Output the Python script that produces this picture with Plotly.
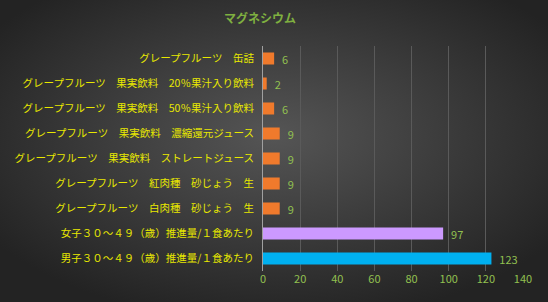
import base64
import plotly.graph_objects as go

categories = [
    "グレープフルーツ　缶詰",
    "グレープフルーツ　果実飲料　20％果汁入り飲料",
    "グレープフルーツ　果実飲料　50％果汁入り飲料",
    "グレープフルーツ　果実飲料　濃縮還元ジュース",
    "グレープフルーツ　果実飲料　ストレートジュース",
    "グレープフルーツ　紅肉種　砂じょう　生",
    "グレープフルーツ　白肉種　砂じょう　生",
    "女子３０～４９（歳）推進量/１食あたり",
    "男子３０～４９（歳）推進量/１食あたり",
]
values = [6, 2, 6, 9, 9, 9, 9, 97, 123]
bar_colors = ["#F07A2C"] * 7 + ["#CC99FF", "#00B0F0"]
x_ticks = [0, 20, 40, 60, 80, 100, 120, 140]

W, H = 548, 302
L, R, T, B = 263, 25, 46, 31
pw, ph = W - L - R, H - T - B

svg = f'''<svg xmlns="http://www.w3.org/2000/svg" width="{W}" height="{H}">
<defs><radialGradient id="g" cx="0.5" cy="0.45" r="0.62" gradientUnits="objectBoundingBox">
<stop offset="0" stop-color="#555555"/><stop offset="1" stop-color="#232323"/></radialGradient></defs>
<rect width="{W}" height="{H}" fill="url(#g)"/></svg>'''
src = "data:image/svg+xml;base64," + base64.b64encode(svg.encode()).decode()

font = "Noto Sans CJK JP"

fig = go.Figure(go.Bar(
    y=categories, x=values, orientation="h",
    marker=dict(color=bar_colors, line=dict(width=0)),
    width=0.48,
    texttemplate="  %{x}", textposition="outside", constraintext="none",
    textfont=dict(color="#92C050", size=11, family=font),
    cliponaxis=False,
))

fig.update_layout(
    width=W, height=H,
    margin=dict(l=L, r=R, t=T, b=B),
    paper_bgcolor="#333333",
    plot_bgcolor="rgba(0,0,0,0)",
    showlegend=False,
    title=dict(text="<b>マグネシウム</b>", x=260 / W, xanchor="center", y=1 - 19 / H, yanchor="middle",
               font=dict(color="#7FB040", size=12, family=font)),
    images=[dict(source=src, xref="paper", yref="paper", x=-L / pw, y=1 + T / ph,
                 sizex=W / pw, sizey=H / ph, xanchor="left", yanchor="top",
                 sizing="stretch", layer="below")],
    xaxis=dict(range=[0, 140], tickvals=x_ticks, showgrid=True, gridcolor="#5A5A5A", gridwidth=1,
               zeroline=False, showline=False, ticks="",
               tickfont=dict(color="#92C050", size=11, family=font)),
    yaxis=dict(autorange="reversed", showgrid=False, showline=True, linecolor="#A0A0A0", linewidth=1,
               ticks="", ticklabelstandoff=6,
               tickfont=dict(color="#E8E800", size=10.5, family=font)),
)

fig.write_html("out.html")
